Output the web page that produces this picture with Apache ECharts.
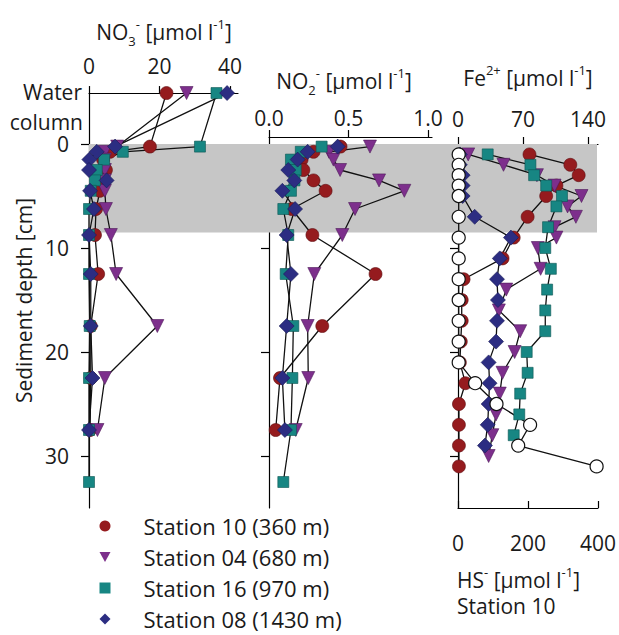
<!DOCTYPE html>
<html><head><meta charset="utf-8">
<script src="https://cdn.jsdelivr.net/npm/echarts@6/dist/echarts.min.js"></script>
<style>html,body{margin:0;padding:0;background:#fff}#c{width:619px;height:635px}</style>
</head><body><div id="c"></div>
<script>
// ---------- data ----------
const stations = ['Station 10 (360 m)', 'Station 04 (680 m)', 'Station 16 (970 m)', 'Station 08 (1430 m)'];
const WATER = -4.9; // plotting depth of the "Water column" row

const depthNO3 = [WATER, 0.25, 0.75, 1.5, 2.5, 3.5, 4.5, 6.25, 8.75, 12.5, 17.5, 22.5, 27.5];
const depthNO3_st16 = [WATER, 0.25, 0.75, 1.5, 2.5, 3.5, 4.5, 6.25, 8.75, 12.5, 17.5, 22.5, 27.5, 32.5];
const no3_st10 = [22, 17.3, 6, 4, 4.8, 4, 3.1, 2, 1.7, 2.6, 0.5, 0.5, 0.3];
const no3_st04 = [27.7, 8, 4.5, 4.5, 4.5, 4.5, 4.5, 4.8, 6.2, 7.7, 19.4, 4.5, 2.4];
const no3_st16 = [36.2, 31.5, 9.6, 4.3, 2.2, 1.7, 0.5, 0, 0, 0, 0.2, 0, 0, 0];
const no3_st08 = [39.2, 7.4, 2.2, 0.1, 0, 5, 0.3, 1.4, 0, 0.5, 0.5, 1, 0];

const depthNO2 = [0.25, 0.75, 1.5, 2.5, 3.5, 4.5, 6.25, 8.75, 12.5, 17.5, 22.5, 27.5];
const depthNO2_st16 = [0.25, 0.75, 1.5, 2.5, 3.5, 4.5, 6.25, 8.75, 12.5, 17.5, 22.5, 27.5, 32.5];
const no2_st10 = [0.45, 0.28, 0.205, 0.216, 0.28, 0.356, 0.143, 0.273, 0.67, 0.335, 0.069, 0.042];
const no2_st04 = [0.635, 0.377, 0.405, 0.447, 0.692, 0.851, 0.541, 0.461, 0.285, 0.243, 0.247, 0.168];
const no2_st16 = [0.331, 0.2, 0.138, 0.168, 0.16, 0.138, 0.09, 0.121, 0.105, 0.153, 0.147, 0.138, 0.09];
const no2_st08 = [0.432, 0.243, 0.18, 0.121, 0.159, 0.084, 0.164, 0.111, 0.138, 0.111, 0.084, 0.10];

const depthFe_st10 = [1, 2, 3, 4, 5, 7, 9, 11, 13, 15, 17, 19, 21, 23, 25, 27, 29, 31];
const fe_st10 = [77, 121, 130, 106, 95, 75, 60, 48, 6, 4, 4, 3, 2, 8, 1, 1, 1, 1];
const depthFe_st04 = [1, 2, 3, 4, 5, 6, 7, 8, 9, 10, 12, 14, 16, 18, 20, 22, 24, 26, 28, 30];
const fe_st04 = [11, 49, 85, 104, 133, 118, 127, 104, 106, 86, 89, 52, 44, 67, 61, 48, 45, 41, 37, 33];
const depthFe_st16 = [1, 2, 3, 4, 5, 6, 8, 10, 12, 14, 16, 18, 20, 22, 24, 26, 28];
const fe_st16 = [32, 78, 82, 95, 112, 106, 97, 94, 100, 96, 94, 94, 74, 75, 67, 66, 60];
const depthFe_st08 = [1, 2, 3, 4, 5, 7, 9, 11, 13, 15, 17, 19, 21, 23, 25, 27, 29];
const fe_st08 = [2, 2, 5, 5, 5, 18, 57, 45, 42, 43, 42, 41, 33, 34, 33, 32, 29];

const depthHS = [1, 2, 3, 4, 5, 7, 9, 11, 13, 15, 17, 19, 21, 23, 25, 27, 29, 31];
const hs_st10 = [2, 2, 2, 2, 2, 2, 2, 2, 2, 2, 2, 2, 2, 49, 110, 206, 172, 396];

const no3Ticks = [0, 20, 40];
const no2Ticks = [0, 0.5, 1.0];
const feTicks = [0, 70, 140];
const hsTicks = [0, 200, 400];
const depthTicks = [0, 10, 20, 30];
const greyBand = [0, 8.5]; // shaded sediment depth range [cm]

// ---------- styling ----------
const FONT = '"Open Sans", sans-serif';
const FS = 21;
const TXT = '#1a1a1a';
const colors = ['#951b1e', '#7d2f8c', '#178683', '#2c2d82'];
const borders = ['#5e0d10', '#4e1a59', '#0c5553', '#1a1b55'];
const symbols = ['circle', 'triangle', 'rect', 'diamond'];
const symRot = [0, 180, 0, 0];
const symSize = [13, 13, 11, 15];
const legendIcons = ['circle', 'path://M0,0 L10,0 L5,9 Z', 'rect', 'diamond'];

const Y0 = 144, PX = 10.4, DMAX = 35;
function grid(left, width, dmin) {
  return { left: left, width: width, top: Y0 + dmin * PX, height: (DMAX - dmin) * PX,
           containLabel: false, outerBoundsMode: 'none' };
}
const axLine = { show: true, onZero: false, lineStyle: { color: '#000', width: 1.2 } };
function xAx(gi, pos, min, max, ticks, margin, fmt, inside) {
  return {
    type: 'value', gridIndex: gi, position: pos, min: min, max: max,
    axisLine: axLine,
    axisTick: { show: true, customValues: ticks, length: 7, inside: !!inside, lineStyle: { color: '#000', width: 1.2 } },
    axisLabel: { customValues: ticks, margin: margin, fontSize: FS, fontFamily: FONT, color: TXT,
                 formatter: fmt || (v => String(v)) },
    splitLine: { show: false }
  };
}
function yAx(gi, dmin, labels, ticks) {
  return {
    type: 'value', gridIndex: gi, inverse: true, min: dmin, max: DMAX,
    axisLine: axLine,
    axisTick: { show: true, customValues: ticks, length: 8, lineStyle: { color: '#000', width: 1.2 } },
    axisLabel: labels ? { customValues: depthTicks, margin: 20, fontSize: FS, fontFamily: FONT, color: TXT }
                      : { show: false },
    splitLine: { show: false }
  };
}

function zip(xs, ds) { return xs.map((v, i) => [v, ds[i]]); }

const no3 = [zip(no3_st10, depthNO3), zip(no3_st04, depthNO3), zip(no3_st16, depthNO3_st16), zip(no3_st08, depthNO3)];
const no2 = [zip(no2_st10, depthNO2), zip(no2_st04, depthNO2), zip(no2_st16, depthNO2_st16), zip(no2_st08, depthNO2)];
const fe = [zip(fe_st10, depthFe_st10), zip(fe_st04, depthFe_st04), zip(fe_st16, depthFe_st16), zip(fe_st08, depthFe_st08)];

const series = [{
  // grey band spanning all three panels (own background grid)
  type: 'line', name: 'band', xAxisIndex: 4, yAxisIndex: 3, data: [], silent: true, z: 0,
  markArea: { silent: true, itemStyle: { color: '#c6c6c6' },
              data: [[{ xAxis: 0, yAxis: greyBand[0] }, { xAxis: 1, yAxis: greyBand[1] }]] }
}];
function addSeries(dataSets, xi, yi) {
  dataSets.forEach((d, k) => {
    series.push({
      type: 'line', name: stations[k], xAxisIndex: xi, yAxisIndex: yi, data: d,
      symbol: symbols[k], symbolRotate: symRot[k], symbolSize: symSize[k],
      showAllSymbol: true, silent: true, z: 3,
      lineStyle: { color: '#111', width: 1.3 },
      itemStyle: { color: colors[k], borderColor: borders[k], borderWidth: 0.6 }
    });
  });
}
addSeries(no3, 0, 0);
addSeries(no2, 1, 1);
addSeries(fe, 2, 2);
series.push({
  type: 'line', name: 'HS- Station 10', xAxisIndex: 3, yAxisIndex: 2, data: zip(hs_st10, depthHS),
  symbol: 'circle', symbolSize: 13, showAllSymbol: true, silent: true, z: 3,
  lineStyle: { color: '#111', width: 1.3 },
  itemStyle: { color: '#fff', borderColor: '#111', borderWidth: 1.2 }
});

const rich = {
  m: { fontSize: FS, fontFamily: FONT, color: TXT, lineHeight: 30, verticalAlign: 'middle' },
  sup: { fontSize: 13, fontFamily: FONT, color: TXT, lineHeight: 13, verticalAlign: 'top' },
  sub: { fontSize: 13, fontFamily: FONT, color: TXT, lineHeight: 13, verticalAlign: 'bottom' }
};
function label(x, y, text, align) {
  return { type: 'text', x: x, y: y, silent: true,
           style: { text: text, rich: rich, align: align || 'center', verticalAlign: 'middle',
                    font: FS + 'px ' + FONT, fill: TXT } };
}
function plain(x, y, text, align) {
  return { type: 'text', x: x, y: y, silent: true,
           style: { text: text, align: align, verticalAlign: 'middle', fontSize: FS, fontFamily: FONT, fill: TXT } };
}

const option = {
  animation: false,
  backgroundColor: '#fff',
  grid: [grid(89, 149, WATER), grid(269, 163, -0.67), grid(458, 140, 0), grid(89, 508, 0)],
  xAxis: [
    xAx(0, 'top', 0, 42.3, no3Ticks, 17),
    xAx(1, 'top', 0, 1.025, no2Ticks, 9, v => v.toFixed(1)),
    xAx(2, 'top', 0, 150.8, feTicks, 15),
    xAx(2, 'bottom', 0, 400, hsTicks, 24, null, true),
    { type: 'value', gridIndex: 3, min: 0, max: 1, show: false }
  ],
  yAxis: [
    Object.assign(yAx(0, WATER, true, depthTicks), {
      name: 'Sediment depth [cm]', nameLocation: 'middle', nameGap: 55, nameRotate: 90,
      nameTextStyle: { fontSize: FS, fontFamily: FONT, color: TXT }
    }),
    yAx(1, -0.67, false, [10, 20, 30]),
    yAx(2, 0, false, [10, 20, 30]),
    { type: 'value', gridIndex: 3, inverse: true, min: 0, max: DMAX, show: false }
  ],
  legend: {
    orient: 'vertical', left: 94.5, top: 510, itemWidth: 11, itemHeight: 11, itemGap: 9,
    selectedMode: false,
    textStyle: { fontSize: 22, fontFamily: FONT, color: TXT, padding: [0, 0, 0, 28] },
    data: stations.map((s, k) => ({ name: s, icon: legendIcons[k],
                                    itemStyle: { color: colors[k], borderWidth: 0 } }))
  },
  graphic: { elements: [
    plain(82, 92, 'Water', 'right'),
    plain(83, 122, 'column', 'right'),
    label(164, 32, '{m|NO}{sub|3}{sup|-}{m| [μmol l}{sup|-1}{m|]}'),
    label(344, 81, '{m|NO}{sub|2}{sup|-}{m| [μmol l}{sup|-1}{m|]}'),
    label(528, 78, '{m|Fe}{sup|2+}{m| [μmol l}{sup|-1}{m|]}'),
    label(457, 580, '{m|HS}{sup|-}{m| [μmol l}{sup|-1}{m|]}', 'left'),
    plain(457, 606, 'Station 10', 'left')
  ] },
  series: series
};

const chart = echarts.init(document.getElementById('c'), null, { renderer: 'svg' });
chart.setOption(option);
</script></body></html>
